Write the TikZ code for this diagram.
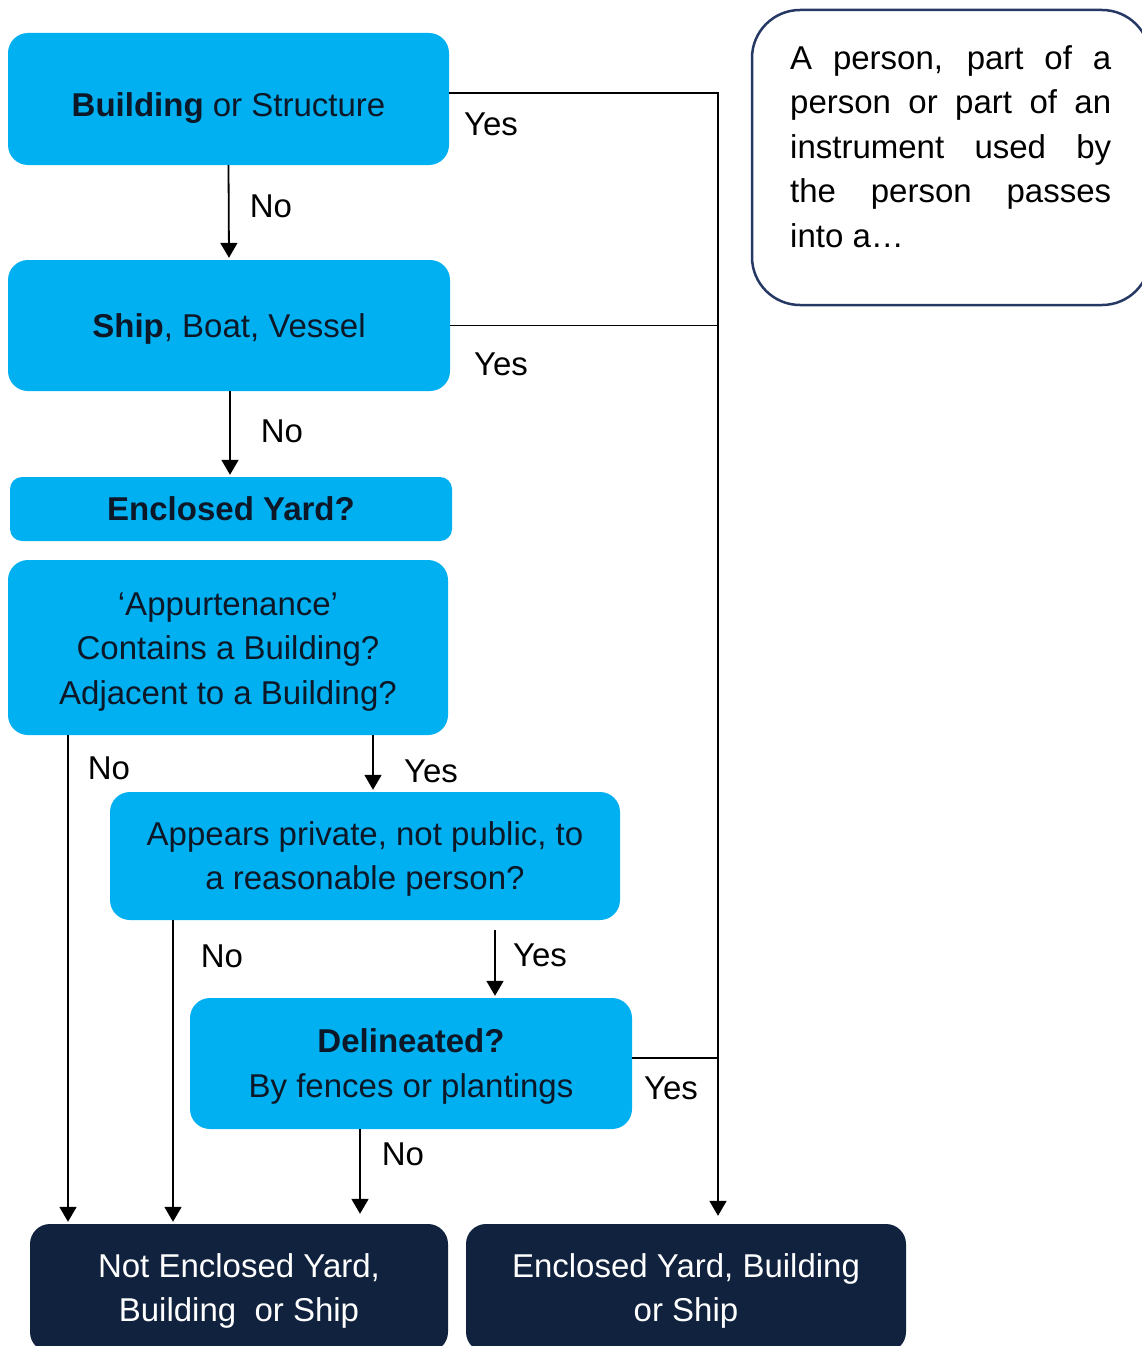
\documentclass[tikz,border=0pt]{standalone}
\usepackage{fontspec}
\setmainfont{Liberation Sans}
\usetikzlibrary{arrows.meta,calc}
\definecolor{cyanbox}{RGB}{0,176,240}
\definecolor{navybox}{RGB}{16,34,62}
\definecolor{noteline}{RGB}{38,56,100}
\definecolor{boxtext}{RGB}{12,24,40}
\hyphenpenalty=10000
\exhyphenpenalty=10000
\tolerance=9999
\newcommand\tstr[1]{\rule{0pt}{#1}}
\begin{document}
\begin{tikzpicture}[x=1pt,y=-1pt,
  every node/.style={font=\fontsize{33}{44.5}\selectfont, inner sep=0pt},
  qbox/.style={draw=none, fill=cyanbox, rounded corners=20pt, align=center, text=boxtext},
  rbox/.style={draw=none, fill=navybox, rounded corners=20pt, align=center, text=white},
  lbl/.style={text=black},
  conn/.style={draw=black, line width=1.8pt},
  arr/.style={conn, -{Triangle[length=15pt,width=17pt]}, shorten >=2pt}
]
\useasboundingbox (0,0) rectangle (1142,1346);

% decision boxes
\node[qbox, minimum width=441pt, minimum height=132pt] (b1) at (228.5,99) {\tstr{41pt}\textbf{Building} or Structure};
\node[qbox, minimum width=442pt, minimum height=131pt] (b2) at (229,325.5) {\tstr{30pt}\textbf{Ship}, Boat, Vessel};
\node[qbox, rounded corners=12pt, minimum width=442pt, minimum height=64pt] (b3) at (231,509) {\textbf{Enclosed Yard?}};
\node[qbox, minimum width=440pt, minimum height=175pt] (b4) at (228,647.5) {\tstr{31pt}`Appurtenance'\\Contains a Building?\\Adjacent to a Building?};
\node[qbox, minimum width=510pt, minimum height=128pt] (b5) at (365,856) {\tstr{30pt}Appears private, not public, to\\a reasonable person?};
\node[qbox, minimum width=442pt, minimum height=131pt] (b6) at (411,1063.5) {\tstr{30pt}\textbf{Delineated?}\\By fences or plantings};

% result boxes
\node[rbox, minimum width=418pt, minimum height=128pt] (b7) at (239,1288) {\tstr{30pt}Not Enclosed Yard,\\Building~ or Ship};
\node[rbox, minimum width=440pt, minimum height=128pt] (b8) at (686,1288) {\tstr{30pt}Enclosed Yard, Building\\or Ship};

% note box
\node[draw=noteline, line width=2.5pt, rounded corners=48pt, minimum width=398pt, minimum height=295pt] (note) at (951,157.5) {};
\node[anchor=north west, text width=321pt, align=justify, text=black] (notet) at (790,45)
  {A person, part of a person or part of an instrument used by the person passes into a\ldots};

% coordinates
\coordinate (trunk) at (718,0);

% vertical "No" arrows
\draw[arr] (b1.south) -- (b2.north);
\draw[arr] ([xshift=1pt]b2.south) -- ([xshift=-1pt]b3.north);
\draw[arr] (b4.south -| 68,0) -- (b7.north -| 68,0);
\draw[arr] (b4.south -| 373,0) -- (b5.north -| 373,0);
\draw[arr] (b5.south -| 173,0) -- (b7.north -| 173,0);
\draw[arr] ([yshift=-10pt]b5.south -| 495,0) -- (b6.north -| 495,0);
\draw[arr] (b6.south -| 360,0) -- ([yshift=8pt]b7.north -| 360,0);

% "Yes" trunk on the right
\draw[arr] ([yshift=6pt]b1.east) -| ([yshift=6pt]b8.north -| trunk);
\draw[conn] (b2.east) -- (b2.east -| trunk);
\draw[conn] ([yshift=5.5pt]b6.east) -- ([yshift=5.5pt]b6.east -| trunk);

% labels
\node[lbl] (y1) at (491,124) {Yes};
\node[lbl] (n1) at (271,206) {No};
\node[lbl] (y2) at (501,364) {Yes};
\node[lbl] (n2) at (282,431) {No};
\node[lbl] (n3) at (109,768) {No};
\node[lbl] (y3) at (431,771) {Yes};
\node[lbl] (n4) at (222,956) {No};
\node[lbl] (y4) at (540,955) {Yes};
\node[lbl] (y5) at (671,1088) {Yes};
\node[lbl] (n5) at (403,1154) {No};
\end{tikzpicture}
\end{document}
